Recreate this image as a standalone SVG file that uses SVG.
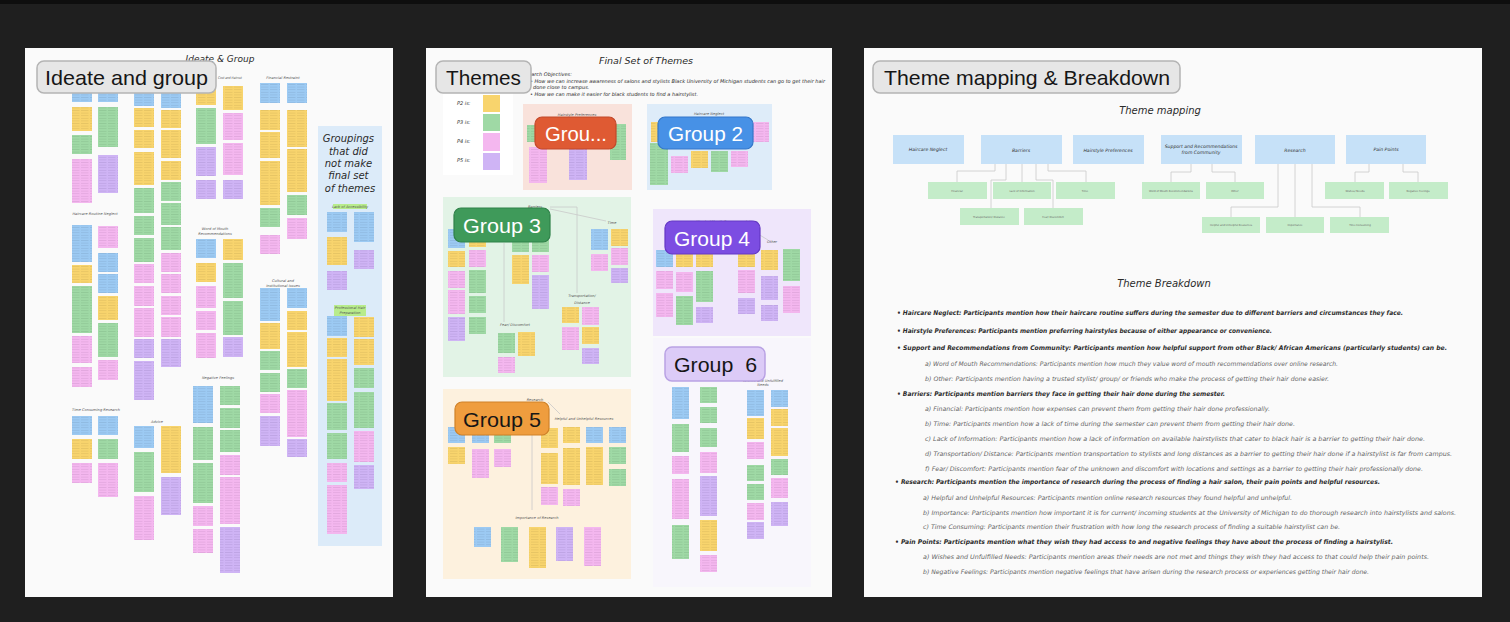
<svg xmlns="http://www.w3.org/2000/svg" width="1510" height="622" viewBox="0 0 1510 622">
<defs>
  <!-- sticky note fills: colour plus faint handwriting rows -->
  <pattern id="pb" width="9" height="2.6" patternUnits="userSpaceOnUse"><rect width="9" height="2.6" fill="#9ccaf3"/><path d="M0 1.3h7.5" stroke="#34506a" stroke-width=".45" opacity=".25"/></pattern>
  <pattern id="py" width="9" height="2.6" patternUnits="userSpaceOnUse"><rect width="9" height="2.6" fill="#f8d46d"/><path d="M0 1.3h7.5" stroke="#6a5520" stroke-width=".45" opacity=".25"/></pattern>
  <pattern id="pg" width="9" height="2.6" patternUnits="userSpaceOnUse"><rect width="9" height="2.6" fill="#9fd9a5"/><path d="M0 1.3h7.5" stroke="#2f5a36" stroke-width=".45" opacity=".25"/></pattern>
  <pattern id="pp" width="9" height="2.6" patternUnits="userSpaceOnUse"><rect width="9" height="2.6" fill="#f4b7ef"/><path d="M0 1.3h7.5" stroke="#6a3a66" stroke-width=".45" opacity=".25"/></pattern>
  <pattern id="pu" width="9" height="2.6" patternUnits="userSpaceOnUse"><rect width="9" height="2.6" fill="#cfb4f5"/><path d="M0 1.3h7.5" stroke="#4a3570" stroke-width=".45" opacity=".25"/></pattern>
  <style>
    .b{fill:url(#pb)} .y{fill:url(#py)} .g{fill:url(#pg)} .p{fill:url(#pp)} .u{fill:url(#pu)}
    .panel{fill:#fafafa}
    .hand{font-family:"DejaVu Sans",sans-serif;font-style:italic;fill:#2a2a2a}
    .tiny{font-family:"DejaVu Sans",sans-serif;font-style:italic;font-size:3.6px;fill:#555;text-anchor:middle}
    .pill{fill:#e6e6e6;stroke:#b4b4b4;stroke-width:1.5}
    .pilltxt{font-family:"Liberation Sans",Arial,sans-serif;font-size:21px;fill:#161616}
    .gtxt{font-family:"Liberation Sans",Arial,sans-serif;font-size:21px;fill:#ffffff}
    .tm{fill:#c6e1f8}
    .tg{fill:#c4ecc9}
    .tmt{font-family:"DejaVu Sans",sans-serif;font-style:italic;font-size:4.6px;fill:#333;text-anchor:middle}
    .tgt{font-family:"DejaVu Sans",sans-serif;font-size:2.6px;fill:#666;text-anchor:middle}
    .lnk{fill:none;stroke:#c9c9c9;stroke-width:.8}
    .bul{font-family:"DejaVu Sans",sans-serif;font-style:italic;font-weight:bold;font-size:6.4px;fill:#2b2b2b}
    .sub{font-family:"DejaVu Sans",sans-serif;font-style:italic;font-size:6.2px;fill:#666}
  </style>
</defs>

<!-- backdrop -->
<rect width="1510" height="622" fill="#1f1f1f"/>
<rect width="1510" height="4" fill="#0e0e0e"/>

<!-- ===================== Board 1: Ideate and group ===================== -->
<g id="board-ideate">
  <rect class="panel" x="25" y="48" width="368" height="549"/>
  <rect x="318" y="126" width="64" height="420" fill="#dcebf9"/>
  <text class="hand" x="220" y="62" font-size="9" text-anchor="middle">Ideate &amp; Group</text>
  <text class="tiny" x="230" y="79" textLength="24" lengthAdjust="spacingAndGlyphs">Cost and Haircut</text>
  <text class="tiny" x="283" y="79">Financial Restraint</text>
  <text class="tiny" x="95" y="215">Haircare Routine Neglect</text>
  <text class="tiny" x="96" y="411">Time Consuming Research</text>
  <text class="tiny" x="157" y="423">Advice</text>
  <text class="tiny" x="215" y="230">Word of Mouth</text>
  <text class="tiny" x="215" y="235">Recommendations</text>
  <text class="tiny" x="218" y="379">Negative Feelings</text>
  <text class="tiny" x="283" y="282">Cultural and</text>
  <text class="tiny" x="283" y="287">Institutional Issues</text>
  <text class="hand" font-size="10" text-anchor="middle" fill="#333">
    <tspan x="350" y="142">Groupings</tspan>
    <tspan x="350" y="155">that did</tspan>
    <tspan x="350" y="167">not make</tspan>
    <tspan x="350" y="179">final set</tspan>
    <tspan x="350" y="192">of themes</tspan>
  </text>
  <rect x="333" y="204" width="34" height="5" fill="#b8ec8c"/>
  <text class="tiny" x="350" y="208">Lack of Accessibility</text>
  <rect x="334" y="305" width="32" height="11" fill="#b8ec8c"/>
  <text class="tiny" x="350" y="309">Professional Hair</text>
  <text class="tiny" x="350" y="314">Preparation</text>
</g>

<g id="notes-ideate">
  <!-- column A -->
  <rect class="b" x="72" y="88" width="20" height="14"/><rect class="y" x="72" y="107" width="20" height="24"/><rect class="g" x="72" y="135" width="20" height="19"/><rect class="p" x="72" y="159" width="20" height="44"/>
  <rect class="b" x="72" y="225" width="20" height="37"/><rect class="y" x="72" y="265" width="20" height="18"/><rect class="g" x="72" y="286" width="20" height="47"/><rect class="p" x="72" y="336" width="20" height="27"/><rect class="p" x="72" y="367" width="20" height="20"/>
  <rect class="b" x="72" y="416" width="20" height="19"/><rect class="y" x="72" y="439" width="20" height="20"/><rect class="p" x="72" y="463" width="20" height="20"/>
  <!-- column B -->
  <rect class="b" x="98" y="88" width="20" height="14"/><rect class="g" x="98" y="107" width="20" height="40"/><rect class="u" x="98" y="155" width="20" height="38"/>
  <rect class="p" x="98" y="226" width="20" height="22"/><rect class="b" x="98" y="253" width="20" height="19"/><rect class="b" x="98" y="274" width="20" height="19"/><rect class="y" x="98" y="296" width="20" height="24"/><rect class="g" x="98" y="323" width="20" height="34"/><rect class="p" x="98" y="360" width="20" height="20"/>
  <rect class="b" x="98" y="416" width="20" height="19"/><rect class="g" x="98" y="439" width="20" height="20"/><rect class="p" x="98" y="463" width="20" height="34"/>
  <!-- column C -->
  <rect class="b" x="134" y="92" width="20" height="14"/><rect class="y" x="134" y="108" width="20" height="19"/><rect class="y" x="134" y="130" width="20" height="18"/><rect class="y" x="134" y="152" width="20" height="33"/><rect class="g" x="134" y="188" width="20" height="25"/><rect class="g" x="134" y="216" width="20" height="19"/><rect class="g" x="134" y="238" width="20" height="24"/><rect class="p" x="134" y="264" width="20" height="19"/><rect class="p" x="134" y="286" width="20" height="20"/><rect class="p" x="134" y="308" width="20" height="29"/><rect class="u" x="134" y="339" width="20" height="19"/><rect class="u" x="134" y="361" width="20" height="39"/>
  <rect class="b" x="134" y="426" width="20" height="22"/><rect class="g" x="134" y="452" width="20" height="40"/><rect class="p" x="134" y="496" width="20" height="44"/>
  <!-- column D -->
  <rect class="b" x="161" y="92" width="20" height="16"/><rect class="y" x="161" y="110" width="20" height="18"/><rect class="y" x="161" y="130" width="20" height="28"/><rect class="y" x="161" y="161" width="20" height="19"/><rect class="g" x="161" y="182" width="20" height="19"/><rect class="g" x="161" y="203" width="20" height="22"/><rect class="g" x="161" y="227" width="20" height="23"/><rect class="p" x="161" y="253" width="20" height="19"/><rect class="p" x="161" y="274" width="20" height="19"/><rect class="p" x="161" y="296" width="20" height="19"/><rect class="p" x="161" y="317" width="20" height="20"/><rect class="u" x="161" y="339" width="20" height="28"/>
  <rect class="y" x="161" y="426" width="20" height="47"/><rect class="u" x="161" y="477" width="20" height="38"/>
  <!-- column E -->
  <rect class="y" x="196" y="86" width="20" height="19"/><rect class="g" x="196" y="108" width="20" height="36"/><rect class="u" x="196" y="147" width="20" height="29"/><rect class="u" x="196" y="180" width="20" height="19"/>
  <rect class="b" x="196" y="239" width="20" height="19"/><rect class="y" x="196" y="263" width="20" height="19"/><rect class="p" x="196" y="286" width="20" height="22"/><rect class="p" x="196" y="311" width="20" height="19"/><rect class="p" x="196" y="333" width="20" height="25"/>
  <rect class="b" x="193" y="386" width="20" height="37"/><rect class="g" x="193" y="427" width="20" height="33"/><rect class="g" x="193" y="463" width="20" height="40"/><rect class="p" x="193" y="506" width="20" height="20"/><rect class="p" x="193" y="529" width="20" height="24"/>
  <!-- column F -->
  <rect class="y" x="223" y="86" width="20" height="24"/><rect class="p" x="223" y="113" width="20" height="27"/><rect class="p" x="223" y="143" width="20" height="32"/><rect class="u" x="223" y="180" width="20" height="19"/>
  <rect class="y" x="223" y="239" width="20" height="21"/><rect class="g" x="223" y="263" width="20" height="35"/><rect class="g" x="223" y="301" width="20" height="34"/><rect class="u" x="223" y="337" width="20" height="20"/>
  <rect class="g" x="220" y="386" width="20" height="19"/><rect class="g" x="220" y="408" width="20" height="20"/><rect class="g" x="220" y="430" width="20" height="22"/><rect class="p" x="220" y="455" width="20" height="20"/><rect class="p" x="220" y="477" width="20" height="47"/><rect class="u" x="220" y="527" width="20" height="46"/>
  <!-- column G -->
  <rect class="b" x="260" y="83" width="20" height="20"/><rect class="y" x="260" y="110" width="20" height="20"/><rect class="y" x="260" y="132" width="20" height="26"/><rect class="y" x="260" y="161" width="20" height="44"/><rect class="g" x="260" y="208" width="20" height="19"/><rect class="p" x="260" y="235" width="20" height="19"/>
  <rect class="b" x="260" y="288" width="20" height="33"/><rect class="y" x="260" y="323" width="20" height="26"/><rect class="g" x="260" y="351" width="20" height="19"/><rect class="g" x="260" y="373" width="20" height="19"/><rect class="p" x="260" y="394" width="20" height="19"/><rect class="u" x="260" y="416" width="20" height="30"/>
  <!-- column H -->
  <rect class="b" x="287" y="83" width="20" height="20"/><rect class="y" x="287" y="110" width="20" height="37"/><rect class="y" x="287" y="149" width="20" height="43"/><rect class="g" x="287" y="195" width="20" height="20"/><rect class="p" x="287" y="218" width="20" height="21"/>
  <rect class="b" x="287" y="288" width="20" height="20"/><rect class="y" x="287" y="311" width="20" height="19"/><rect class="y" x="287" y="332" width="20" height="35"/><rect class="g" x="287" y="369" width="20" height="19"/><rect class="p" x="287" y="390" width="20" height="47"/><rect class="u" x="287" y="439" width="20" height="18"/>
  <!-- leftover groupings -->
  <rect class="b" x="327" y="212" width="20" height="20"/><rect class="y" x="327" y="237" width="20" height="28"/><rect class="u" x="327" y="271" width="20" height="19"/>
  <rect class="b" x="327" y="316" width="20" height="20"/><rect class="y" x="327" y="338" width="20" height="19"/><rect class="y" x="327" y="359" width="20" height="42"/><rect class="g" x="327" y="403" width="20" height="27"/><rect class="g" x="327" y="433" width="20" height="26"/><rect class="p" x="327" y="463" width="20" height="19"/><rect class="p" x="327" y="485" width="20" height="49"/>
  <rect class="b" x="354" y="212" width="20" height="30"/><rect class="u" x="354" y="250" width="20" height="19"/>
  <rect class="y" x="354" y="317" width="20" height="20"/><rect class="y" x="354" y="339" width="20" height="26"/><rect class="g" x="354" y="368" width="20" height="20"/><rect class="g" x="354" y="392" width="20" height="36"/><rect class="p" x="354" y="431" width="20" height="31"/><rect class="u" x="354" y="465" width="20" height="24"/>
</g>

<!-- ===================== Board 2: Themes ===================== -->
<g id="board-themes">
  <rect class="panel" x="426" y="48" width="406" height="549"/>
  <text class="hand" x="646" y="64" font-size="9.5" text-anchor="middle">Final Set of Themes</text>
  <text class="hand" font-size="5" fill="#444">
    <tspan x="519" y="76">Research Objectives:</tspan>
    <tspan x="530" y="83" textLength="295" lengthAdjust="spacingAndGlyphs">• How we can increase awareness of salons and stylists Black University of Michigan students can go to get their hair</tspan>
    <tspan x="533" y="89">done close to campus.</tspan>
    <tspan x="530" y="96" textLength="168" lengthAdjust="spacingAndGlyphs">• How we can make it easier for black students to find a hairstylist.</tspan>
  </text>
</g>

<g id="legend">
  <rect x="443" y="86" width="70" height="89" fill="#ffffff"/>
  <g class="hand" font-size="5" fill="#555">
    <text x="457" y="105">P2 is:</text>
    <text x="457" y="124">P3 is:</text>
    <text x="457" y="143">P4 is:</text>
    <text x="457" y="162">P5 is:</text>
  </g>
  <rect x="483" y="95" width="17" height="17" fill="#f8d46d"/>
  <rect x="483" y="114" width="17" height="17" fill="#9fd9a5"/>
  <rect x="483" y="133" width="17" height="18" fill="#f4b7ef"/>
  <rect x="483" y="153" width="17" height="17" fill="#cfb4f5"/>
</g>

<g id="group-1">
  <rect x="523" y="104" width="109" height="86" fill="#f9e2db"/>
  <text class="tiny" x="577" y="116">Hairstyle Preferences</text>
  <rect class="g" x="527" y="125" width="17" height="17"/>
  <rect class="p" x="529" y="147" width="18" height="36"/>
  <rect class="u" x="569" y="148" width="18" height="32"/>
  <rect class="g" x="610" y="124" width="16" height="36"/>
</g>

<g id="group-2">
  <rect x="647" y="104" width="125" height="86" fill="#deecf9"/>
  <text class="tiny" x="709" y="115">Haircare Neglect</text>
  <rect class="y" x="651" y="122" width="17" height="20"/>
  <rect class="g" x="650" y="143" width="18" height="42"/>
  <rect class="p" x="671" y="156" width="17" height="17"/>
  <rect class="y" x="691" y="151" width="17" height="17"/>
  <rect class="g" x="711" y="151" width="17" height="21"/>
  <rect class="p" x="731" y="151" width="17" height="16"/>
  <rect class="p" x="753" y="122" width="16" height="20"/>
</g>

<g id="group-3">
  <rect x="443" y="197" width="188" height="180" fill="#e2f3e6"/>
  <text class="tiny" x="535" y="208" font-size="4.4">Barriers</text>
  <text class="tiny" x="612" y="224" font-size="4.4">Time</text>
  <text class="tiny" x="582" y="297" font-size="4.4">Transportation/</text>
  <text class="tiny" x="582" y="304" font-size="4.4">Distance</text>
  <text class="tiny" x="515" y="326" font-size="4.4">Fear/ Discomfort</text>
  <rect class="b" x="448" y="229" width="17" height="19"/><rect class="y" x="448" y="251" width="17" height="16"/><rect class="p" x="448" y="271" width="17" height="17"/><rect class="p" x="448" y="290" width="17" height="24"/><rect class="u" x="448" y="317" width="17" height="24"/>
  <rect class="y" x="469" y="229" width="17" height="18"/><rect class="p" x="469" y="250" width="17" height="17"/><rect class="g" x="469" y="270" width="17" height="23"/><rect class="g" x="469" y="296" width="17" height="17"/><rect class="g" x="469" y="317" width="17" height="17"/>
  <rect class="g" x="512" y="240" width="17" height="12"/><rect class="y" x="512" y="255" width="17" height="29"/>
  <rect class="g" x="532" y="240" width="17" height="12"/><rect class="p" x="532" y="255" width="17" height="17"/><rect class="u" x="532" y="275" width="17" height="34"/>
  <rect class="g" x="498" y="333" width="17" height="20"/><rect class="p" x="498" y="357" width="17" height="16"/>
  <rect class="y" x="518" y="332" width="17" height="24"/>
  <rect class="y" x="562" y="307" width="17" height="16"/><rect class="p" x="562" y="327" width="17" height="23"/>
  <rect class="p" x="582" y="307" width="17" height="18"/><rect class="y" x="582" y="327" width="17" height="17"/><rect class="u" x="582" y="348" width="17" height="16"/>
  <rect class="b" x="591" y="229" width="17" height="21"/><rect class="p" x="591" y="254" width="17" height="17"/>
  <rect class="y" x="611" y="229" width="17" height="17"/><rect class="p" x="611" y="248" width="17" height="17"/><rect class="u" x="611" y="268" width="17" height="15"/>
</g>

<g id="group-4">
  <rect x="653" y="209" width="158" height="127" fill="#efe6fb"/>
  <text class="tiny" x="727" y="223" font-size="4.2">Word of Mouth Recommendations</text>
  <text class="tiny" x="772" y="243" font-size="4.4">Other</text>
  <rect class="b" x="656" y="250" width="17" height="17"/><rect class="p" x="656" y="271" width="17" height="18"/><rect class="p" x="656" y="293" width="17" height="24"/>
  <rect class="y" x="676" y="253" width="17" height="14"/><rect class="p" x="676" y="272" width="17" height="20"/><rect class="g" x="676" y="296" width="17" height="29"/>
  <rect class="y" x="696" y="253" width="17" height="14"/><rect class="g" x="696" y="271" width="17" height="31"/><rect class="u" x="696" y="307" width="17" height="16"/>
  <rect class="y" x="738" y="252" width="17" height="15"/><rect class="p" x="738" y="270" width="17" height="23"/><rect class="u" x="738" y="298" width="17" height="16"/>
  <rect class="y" x="761" y="250" width="17" height="20"/><rect class="u" x="761" y="276" width="17" height="24"/><rect class="u" x="761" y="305" width="17" height="16"/>
  <rect class="g" x="783" y="249" width="17" height="32"/><rect class="p" x="783" y="286" width="17" height="27"/>
</g>

<g id="group-6">
  <rect x="653" y="338" width="158" height="249" fill="#f8f6fc"/>
  <text class="tiny" x="763" y="382" font-size="3.2">Wishes and Unfulfilled</text>
  <text class="tiny" x="763" y="386" font-size="3.2">Needs</text>
  <rect class="b" x="672" y="387" width="17" height="32"/><rect class="g" x="672" y="424" width="17" height="28"/><rect class="p" x="672" y="456" width="17" height="18"/><rect class="p" x="672" y="479" width="17" height="40"/><rect class="g" x="672" y="525" width="17" height="34"/>
  <rect class="g" x="700" y="387" width="17" height="16"/><rect class="g" x="700" y="407" width="17" height="16"/><rect class="g" x="700" y="428" width="17" height="19"/><rect class="p" x="700" y="452" width="17" height="21"/><rect class="u" x="700" y="476" width="17" height="40"/><rect class="y" x="700" y="520" width="17" height="31"/><rect class="p" x="700" y="555" width="17" height="17"/>
  <rect class="b" x="747" y="390" width="17" height="26"/><rect class="y" x="747" y="418" width="17" height="21"/><rect class="p" x="747" y="442" width="17" height="17"/><rect class="g" x="747" y="465" width="17" height="16"/><rect class="g" x="747" y="484" width="17" height="16"/><rect class="p" x="747" y="503" width="17" height="17"/><rect class="u" x="747" y="522" width="17" height="17"/>
  <rect class="b" x="771" y="390" width="17" height="17"/><rect class="y" x="771" y="409" width="17" height="17"/><rect class="y" x="771" y="428" width="17" height="28"/><rect class="g" x="771" y="459" width="17" height="16"/><rect class="p" x="771" y="478" width="17" height="20"/><rect class="u" x="771" y="502" width="17" height="24"/>
</g>

<g id="group-5">
  <rect x="443" y="389" width="188" height="190" fill="#fdf1de"/>
  <text class="tiny" x="535" y="401" font-size="4.4">Research</text>
  <text class="tiny" x="584" y="420" font-size="4.4">Helpful and Unhelpful Resources</text>
  <text class="tiny" x="537" y="519" font-size="4.4">Importance of Research</text>
  <rect class="b" x="448" y="427" width="17" height="16"/><rect class="y" x="448" y="447" width="17" height="17"/>
  <rect class="b" x="472" y="427" width="17" height="16"/><rect class="p" x="472" y="449" width="17" height="29"/>
  <rect class="g" x="494" y="427" width="17" height="16"/><rect class="p" x="494" y="449" width="17" height="18"/>
  <rect class="y" x="541" y="428" width="17" height="20"/><rect class="y" x="541" y="453" width="17" height="31"/><rect class="p" x="541" y="487" width="17" height="18"/>
  <rect class="y" x="563" y="427" width="17" height="16"/><rect class="y" x="563" y="448" width="17" height="37"/><rect class="p" x="563" y="489" width="17" height="17"/>
  <rect class="b" x="586" y="427" width="17" height="16"/><rect class="y" x="586" y="447" width="17" height="38"/>
  <rect class="b" x="609" y="427" width="17" height="16"/><rect class="g" x="609" y="447" width="17" height="17"/><rect class="g" x="609" y="469" width="17" height="17"/>
  <rect class="b" x="474" y="527" width="17" height="20"/><rect class="g" x="501" y="527" width="17" height="35"/><rect class="y" x="529" y="527" width="17" height="41"/><rect class="u" x="556" y="527" width="17" height="34"/><rect class="p" x="584" y="527" width="17" height="39"/>
</g>

<!-- ===================== Board 3: Theme mapping ===================== -->
<g id="board-mapping">
  <rect class="panel" x="864" y="48" width="618" height="549"/>
  <text class="hand" x="1160" y="114" font-size="10" text-anchor="middle">Theme mapping</text>
  <text class="hand" x="1164" y="287" font-size="10" text-anchor="middle">Theme Breakdown</text>
</g>

<!-- connectors -->
<g id="connectors" class="lnk">
  <path d="M550 207H577V293"/>
  <path d="M550 209L606 221"/>
  <path d="M504 243V322"/>
  <path d="M532 408V510"/>
  <path d="M548 402L560 414"/>
  <path d="M758 234L768 240"/>
  <path d="M995 164V171H957V182"/>
  <path d="M1006 164V180H991V208"/>
  <path d="M1022 164V182"/>
  <path d="M1036 164V180H1053V208"/>
  <path d="M1048 164V171H1086V182"/>
  <path d="M1191 164V172H1171V182"/>
  <path d="M1212 164V172H1235V182"/>
  <path d="M1278 164V207H1231V217"/>
  <path d="M1295 164V217"/>
  <path d="M1312 164V207H1360V217"/>
  <path d="M1369 164V172H1355V182"/>
  <path d="M1403 164V172H1418V182"/>
</g>

<g id="theme-haircare"><rect class="tm" x="893" y="135" width="71" height="29"/><text class="tmt" x="928" y="151">Haircare Neglect</text></g>
<g id="theme-barriers"><rect class="tm" x="981" y="135" width="81" height="29"/><text class="tmt" x="1021" y="152">Barriers</text></g>
<g id="theme-hairstyle"><rect class="tm" x="1073" y="135" width="71" height="29"/><text class="tmt" x="1108" y="152">Hairstyle Preferences</text></g>
<g id="theme-support"><rect class="tm" x="1161" y="135" width="81" height="29"/><text class="tmt" x="1201" y="148" font-size="4">Support and Recommendations</text><text class="tmt" x="1201" y="154" font-size="4">from Community</text></g>
<g id="theme-research"><rect class="tm" x="1255" y="135" width="80" height="29"/><text class="tmt" x="1295" y="152">Research</text></g>
<g id="theme-pain"><rect class="tm" x="1346" y="135" width="80" height="29"/><text class="tmt" x="1386" y="151">Pain Points</text></g>

<g id="sub-financial"><rect class="tg" x="928" y="182" width="59" height="17"/><text class="tgt" x="957" y="191.5">Financial</text></g>
<g id="sub-lack"><rect class="tg" x="993" y="182" width="58" height="17"/><text class="tgt" x="1022" y="191.5">Lack of Information</text></g>
<g id="sub-time"><rect class="tg" x="1056" y="182" width="59" height="17"/><text class="tgt" x="1085" y="191.5">Time</text></g>
<g id="sub-transport"><rect class="tg" x="960" y="208" width="59" height="17"/><text class="tgt" x="989" y="217.5">Transportation/ Distance</text></g>
<g id="sub-fear"><rect class="tg" x="1024" y="208" width="59" height="17"/><text class="tgt" x="1053" y="217.5">Fear/ Discomfort</text></g>
<g id="sub-wom"><rect class="tg" x="1142" y="182" width="58" height="17"/><text class="tgt" x="1171" y="191.5">Word of Mouth Recommendations</text></g>
<g id="sub-other"><rect class="tg" x="1206" y="182" width="58" height="17"/><text class="tgt" x="1235" y="191.5">Other</text></g>
<g id="sub-helpful"><rect class="tg" x="1202" y="217" width="58" height="16"/><text class="tgt" x="1231" y="226">Helpful and Unhelpful Resources</text></g>
<g id="sub-importance"><rect class="tg" x="1266" y="217" width="58" height="16"/><text class="tgt" x="1295" y="226">Importance</text></g>
<g id="sub-timeconsuming"><rect class="tg" x="1330" y="217" width="59" height="16"/><text class="tgt" x="1360" y="226">Time Consuming</text></g>
<g id="sub-wishes"><rect class="tg" x="1325" y="182" width="59" height="17"/><text class="tgt" x="1355" y="191.5">Wishes/ Needs</text></g>
<g id="sub-negative"><rect class="tg" x="1389" y="182" width="59" height="17"/><text class="tgt" x="1418" y="191.5">Negative Feelings</text></g>

<g id="breakdown">
  <text class="bul" x="897" y="315" textLength="506" lengthAdjust="spacingAndGlyphs">• Haircare Neglect: Participants mention how their haircare routine suffers during the semester due to different barriers and circumstances they face.</text>
  <text class="bul" x="897" y="333" textLength="375" lengthAdjust="spacingAndGlyphs">• Hairstyle Preferences: Participants mention preferring hairstyles because of either appearance or convenience.</text>
  <text class="bul" x="897" y="350" textLength="550" lengthAdjust="spacingAndGlyphs">• Support and Recommendations from Community: Participants mention how helpful support from other Black/ African Americans (particularly students) can be.</text>
  <text class="sub" x="925" y="366" textLength="413" lengthAdjust="spacingAndGlyphs">a) Word of Mouth Recommendations: Participants mention how much they value word of mouth recommendations over online research.</text>
  <text class="sub" x="925" y="381" textLength="404" lengthAdjust="spacingAndGlyphs">b) Other: Participants mention having a trusted stylist/ group/ or friends who make the process of getting their hair done easier.</text>
  <text class="bul" x="897" y="396" textLength="328" lengthAdjust="spacingAndGlyphs">• Barriers: Participants mention barriers they face in getting their hair done during the semester.</text>
  <text class="sub" x="925" y="411" textLength="345" lengthAdjust="spacingAndGlyphs">a) Financial: Participants mention how expenses can prevent them from getting their hair done professionally.</text>
  <text class="sub" x="925" y="426" textLength="370" lengthAdjust="spacingAndGlyphs">b) Time: Participants mention how a lack of time during the semester can prevent them from getting their hair done.</text>
  <text class="sub" x="925" y="441" textLength="500" lengthAdjust="spacingAndGlyphs">c) Lack of Information: Participants mention how a lack of information on available hairstylists that cater to black hair is a barrier to getting their hair done.</text>
  <text class="sub" x="925" y="456" textLength="527" lengthAdjust="spacingAndGlyphs">d) Transportation/ Distance: Participants mention transportation to stylists and long distances as a barrier to getting their hair done if a hairstylist is far from campus.</text>
  <text class="sub" x="925" y="471" textLength="498" lengthAdjust="spacingAndGlyphs">f) Fear/ Discomfort: Participants mention fear of the unknown and discomfort with locations and settings as a barrier to getting their hair professionally done.</text>
  <text class="bul" x="895" y="484" textLength="485" lengthAdjust="spacingAndGlyphs">• Research: Participants mention the importance of research during the process of finding a hair salon, their pain points and helpful resources.</text>
  <text class="sub" x="923" y="500" textLength="369" lengthAdjust="spacingAndGlyphs">a) Helpful and Unhelpful Resources: Participants mention online research resources they found helpful and unhelpful.</text>
  <text class="sub" x="923" y="515" textLength="533" lengthAdjust="spacingAndGlyphs">b) Importance: Participants mention how important it is for current/ incoming students at the University of Michigan to do thorough research into hairstylists and salons.</text>
  <text class="sub" x="923" y="529" textLength="417" lengthAdjust="spacingAndGlyphs">c) Time Consuming: Participants mention their frustration with how long the research process of finding a suitable hairstylist can be.</text>
  <text class="bul" x="895" y="544" textLength="498" lengthAdjust="spacingAndGlyphs">• Pain Points: Participants mention what they wish they had access to and negative feelings they have about the process of finding a hairstylist.</text>
  <text class="sub" x="923" y="559" textLength="506" lengthAdjust="spacingAndGlyphs">a) Wishes and Unfulfilled Needs: Participants mention areas their needs are not met and things they wish they had access to that could help their pain points.</text>
  <text class="sub" x="923" y="574" textLength="446" lengthAdjust="spacingAndGlyphs">b) Negative Feelings: Participants mention negative feelings that have arisen during the research process or experiences getting their hair done.</text>
</g>

<!-- ===================== overlay tags ===================== -->
<g id="tag-ideate"><rect class="pill" x="37" y="61" width="179" height="32" rx="7"/><text class="pilltxt" x="45" y="85" textLength="163" lengthAdjust="spacingAndGlyphs">Ideate and group</text></g>
<g id="tag-themes"><rect class="pill" x="436" y="61" width="95" height="32" rx="7"/><text class="pilltxt" x="446" y="85" textLength="75" lengthAdjust="spacingAndGlyphs">Themes</text></g>
<g id="tag-mapping"><rect class="pill" x="873" y="61" width="307" height="32" rx="7"/><text class="pilltxt" x="884" y="85" textLength="286" lengthAdjust="spacingAndGlyphs">Theme mapping &amp; Breakdown</text></g>

<g id="tag-group-1"><rect x="535" y="117" width="81" height="32" rx="7" fill="#df5a33" stroke="#c2482a" stroke-width="1.2"/><text class="gtxt" x="545" y="141" textLength="62" lengthAdjust="spacingAndGlyphs">Grou...</text></g>
<g id="tag-group-2"><rect x="658" y="117" width="95" height="32" rx="7" fill="#4791e6" stroke="#3477c9" stroke-width="1.2"/><text class="gtxt" x="668" y="141" textLength="75" lengthAdjust="spacingAndGlyphs">Group 2</text></g>
<g id="tag-group-3"><rect x="454" y="208" width="96" height="34" rx="7" fill="#3f9a5a" stroke="#2f8149" stroke-width="1.2"/><text class="gtxt" x="463" y="233" textLength="78" lengthAdjust="spacingAndGlyphs">Group 3</text></g>
<g id="tag-group-4"><rect x="665" y="221" width="95" height="33" rx="7" fill="#7c4de2" stroke="#6438c4" stroke-width="1.2"/><text class="gtxt" x="674" y="246" textLength="76" lengthAdjust="spacingAndGlyphs">Group 4</text></g>
<g id="tag-group-5"><rect x="455" y="402" width="94" height="33" rx="7" fill="#ef9d3e" stroke="#cf8128" stroke-width="1.2"/><text class="pilltxt" x="463" y="427" textLength="78" lengthAdjust="spacingAndGlyphs">Group 5</text></g>
<g id="tag-group-6"><rect x="665" y="347" width="100" height="34" rx="7" fill="#dccbf7" stroke="#b9a2e4" stroke-width="1.5"/><text class="pilltxt" x="674" y="372" textLength="83" lengthAdjust="spacingAndGlyphs" style="white-space:pre">Group  6</text></g>
</svg>
